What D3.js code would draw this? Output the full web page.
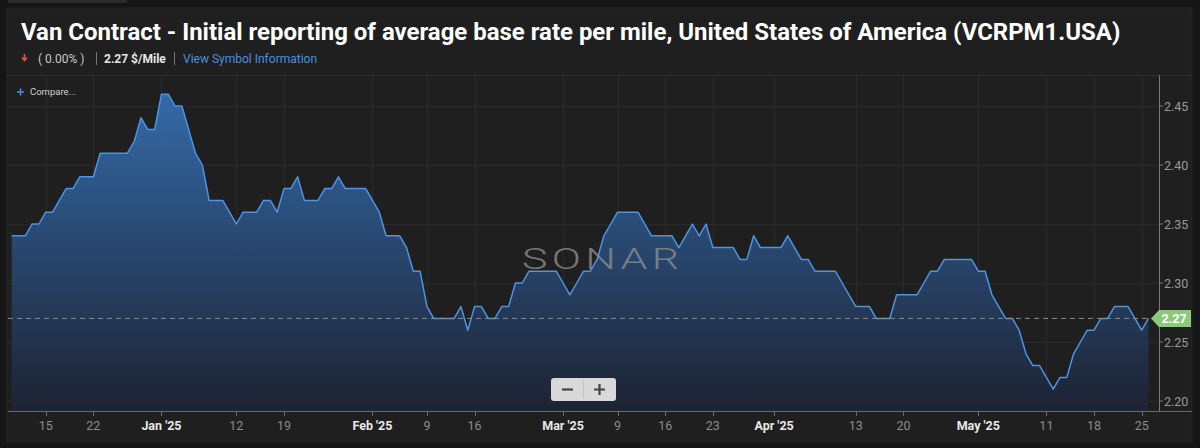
<!DOCTYPE html>
<html>
<head>
<meta charset="utf-8">
<script src="https://cdn.jsdelivr.net/npm/d3@7"></script>
<style>
	html, body { margin: 0; padding: 0; background: #151515; }
	#app { width: 1200px; height: 448px; }
	text { font-family: Roboto, "Noto Sans", sans-serif; }
</style>
</head>
<body>
<div id="app"></div>
<script>
// daily series, starting 10 Dec 2024
const startDay = '2024-12-10';
const rateValues = [
	2.34, 2.34, 2.34, 2.35, 2.35, 2.36, 2.36, 2.37, 2.38, 2.38,
	2.39, 2.39, 2.39, 2.41, 2.41, 2.41, 2.41, 2.41, 2.42, 2.44,
	2.43, 2.43, 2.46, 2.46, 2.45, 2.45, 2.43, 2.41, 2.40, 2.37,
	2.37, 2.37, 2.36, 2.35, 2.36, 2.36, 2.36, 2.37, 2.37, 2.36,
	2.38, 2.38, 2.39, 2.37, 2.37, 2.37, 2.38, 2.38, 2.39, 2.38,
	2.38, 2.38, 2.38, 2.37, 2.36, 2.34, 2.34, 2.34, 2.33, 2.31,
	2.31, 2.28, 2.27, 2.27, 2.27, 2.27, 2.28, 2.26, 2.28, 2.28,
	2.27, 2.27, 2.28, 2.28, 2.30, 2.30, 2.31, 2.31, 2.31, 2.31,
	2.31, 2.30, 2.29, 2.30, 2.31, 2.31, 2.32, 2.34, 2.35, 2.36,
	2.36, 2.36, 2.36, 2.35, 2.34, 2.34, 2.34, 2.34, 2.33, 2.34,
	2.35, 2.34, 2.35, 2.33, 2.33, 2.33, 2.33, 2.32, 2.32, 2.34,
	2.33, 2.33, 2.33, 2.33, 2.34, 2.33, 2.32, 2.32, 2.31, 2.31,
	2.31, 2.31, 2.30, 2.29, 2.28, 2.28, 2.28, 2.27, 2.27, 2.27,
	2.29, 2.29, 2.29, 2.29, 2.30, 2.31, 2.31, 2.32, 2.32, 2.32,
	2.32, 2.32, 2.31, 2.31, 2.29, 2.28, 2.27, 2.27, 2.26, 2.24,
	2.23, 2.23, 2.22, 2.21, 2.22, 2.22, 2.24, 2.25, 2.26, 2.26,
	2.27, 2.27, 2.28, 2.28, 2.28, 2.27, 2.26, 2.27
];
const xTickDays = [
	'2024-12-15', '2024-12-22', '2025-01-01', '2025-01-12', '2025-01-19',
	'2025-02-01', '2025-02-09', '2025-02-16', '2025-03-01', '2025-03-09',
	'2025-03-16', '2025-03-23', '2025-04-01', '2025-04-13', '2025-04-20',
	'2025-05-01', '2025-05-11', '2025-05-18', '2025-05-25'
];
const yTickValues = [2.20, 2.25, 2.30, 2.35, 2.40, 2.45];
const lastValue = 2.27;
const titleText = 'Van Contract - Initial reporting of average base rate per mile, United States of America (VCRPM1.USA)';
const changeText = '( 0.00% )';
const priceText = '2.27 $/Mile';
const linkText = 'View Symbol Information';

const W = 1200, H = 448;
const plot = { left: 8, right: 1159, top: 75, bottom: 411 };

const parseDay = d3.timeParse('%Y-%m-%d');
const day0 = parseDay(startDay);
const series = rateValues.map((v, i) => ({ date: d3.timeDay.offset(day0, i), value: v }));
const tickDates = xTickDays.map(parseDay);

const svg = d3.select('#app').append('svg')
	.attr('width', W)
	.attr('height', H);

// panel
svg.append('rect').attr('x', 8).attr('y', 0).attr('width', 119).attr('height', 3).attr('fill', '#2c2c2c');
svg.append('rect')
	.attr('x', 7).attr('y', 8).attr('width', 1185).attr('height', 434)
	.attr('fill', '#1f1f1f')
	.attr('stroke', '#262626');

// header
const title = svg.append('text')
	.attr('x', 21).attr('y', 40)
	.attr('fill', '#ffffff')
	.attr('font-weight', 700)
	.attr('font-size', 22)
	.text(titleText);
const tLen = title.node().getComputedTextLength();
title.attr('font-size', 22 * 1100 / tLen);

const sub = svg.append('g').attr('font-size', 12);
sub.append('path').attr('d', 'M24.5,54 v6 M22,57.5 l2.5,3 l2.5,-3').attr('stroke', '#e0524f').attr('stroke-width', 1.6).attr('fill', 'none');
sub.append('text').attr('x', 38).attr('y', 63).attr('fill', '#c8c8c8').text(changeText);
sub.append('line').attr('x1', 96.5).attr('x2', 96.5).attr('y1', 52).attr('y2', 65).attr('stroke', '#777');
sub.append('text').attr('x', 104).attr('y', 63).attr('fill', '#e6e6e6').attr('font-weight', 700).text(priceText);
sub.append('line').attr('x1', 174.5).attr('x2', 174.5).attr('y1', 52).attr('y2', 65).attr('stroke', '#777');
sub.append('text').attr('x', 183).attr('y', 63).attr('fill', '#4c8fdc').text(linkText);

svg.append('line')
	.attr('x1', 7).attr('x2', 1192)
	.attr('y1', plot.top + 0.5).attr('y2', plot.top + 0.5)
	.attr('stroke', '#2f2f2f');

// scales
const x = d3.scaleTime()
	.domain([day0, series[series.length - 1].date])
	.range([11.7, 1148.5]);
const y = d3.scaleLinear()
	.domain([2.20, 2.45])
	.range([401, 106]);

// grid
const grid = svg.append('g').attr('stroke', '#2a2a2a').attr('stroke-width', 1);
grid.selectAll('line.v').data(tickDates).enter().append('line')
	.attr('class', 'v')
	.attr('x1', d => Math.round(x(d)) + 0.5).attr('x2', d => Math.round(x(d)) + 0.5)
	.attr('y1', plot.top).attr('y2', plot.bottom);
grid.selectAll('line.h').data(yTickValues).enter().append('line')
	.attr('class', 'h')
	.attr('x1', plot.left).attr('x2', plot.right)
	.attr('y1', d => Math.round(y(d)) + 0.5).attr('y2', d => Math.round(y(d)) + 0.5);

// area + line
const defs = svg.append('defs');
const grad = defs.append('linearGradient')
	.attr('id', 'areaGrad')
	.attr('gradientUnits', 'userSpaceOnUse')
	.attr('x1', 0).attr('x2', 0)
	.attr('y1', plot.top).attr('y2', plot.bottom);
grad.append('stop').attr('offset', 0).attr('stop-color', '#3672b6');
grad.append('stop').attr('offset', 0.5).attr('stop-color', '#294a74');
grad.append('stop').attr('offset', 1).attr('stop-color', '#1d2333');

const area = d3.area()
	.x(d => x(d.date))
	.y0(plot.bottom)
	.y1(d => y(d.value));
const line = d3.line()
	.x(d => x(d.date))
	.y(d => y(d.value));

svg.append('path')
	.datum(series)
	.attr('d', area)
	.attr('fill', 'url(#areaGrad)')
	.attr('opacity', 0.95);

// watermark sits over the area
const wm = svg.append('g');
const wmText = wm.append('text')
	.attr('x', 0).attr('y', 0)
	.attr('font-family', 'Lato, Roboto, sans-serif')
	.attr('font-weight', 300)
	.attr('font-size', 30)
	.attr('letter-spacing', 3)
	.attr('fill', '#8c8c8c')
	.attr('opacity', 0.8)
	.text('SONAR');
const wmLen = wmText.node().getComputedTextLength() - 3;
wm.attr('transform', `translate(522,269) scale(${157 / wmLen},1)`);

svg.append('path')
	.datum(series)
	.attr('d', line)
	.attr('fill', 'none')
	.attr('stroke', '#4d93e6')
	.attr('stroke-width', 1.5)
	.attr('stroke-linejoin', 'round');

// last value dashed line
svg.append('line')
	.attr('x1', plot.left).attr('x2', plot.right)
	.attr('y1', y(lastValue)).attr('y2', y(lastValue))
	.attr('stroke', '#8d8d80')
	.attr('stroke-width', 1)
	.attr('stroke-dasharray', '5,4');

// axes
svg.append('line')
	.attr('x1', plot.left).attr('x2', 1192)
	.attr('y1', plot.bottom + 0.5).attr('y2', plot.bottom + 0.5)
	.attr('stroke', '#6a6a6a');
svg.append('line')
	.attr('x1', plot.right + 0.5).attr('x2', plot.right + 0.5)
	.attr('y1', plot.top).attr('y2', plot.bottom)
	.attr('stroke', '#7a7a7a');

const fmtMonth = d3.timeFormat("%b '%y");
const xAxis = svg.append('g');
xAxis.selectAll('line').data(tickDates).enter().append('line')
	.attr('x1', d => Math.round(x(d)) + 0.5).attr('x2', d => Math.round(x(d)) + 0.5)
	.attr('y1', plot.bottom).attr('y2', plot.bottom + 5)
	.attr('stroke', '#6a6a6a');
xAxis.selectAll('text').data(tickDates).enter().append('text')
	.attr('x', d => x(d))
	.attr('y', 430)
	.attr('text-anchor', 'middle')
	.attr('font-size', 12.5)
	.attr('font-weight', d => d.getDate() === 1 ? 700 : 400)
	.attr('fill', d => d.getDate() === 1 ? '#e8e8e8' : '#8c8c8c')
	.text(d => d.getDate() === 1 ? fmtMonth(d) : d.getDate());

const yAxis = svg.append('g');
yAxis.selectAll('line').data(yTickValues).enter().append('line')
	.attr('x1', plot.right).attr('x2', plot.right + 4)
	.attr('y1', d => y(d)).attr('y2', d => y(d))
	.attr('stroke', '#7a7a7a');
yAxis.selectAll('text').data(yTickValues).enter().append('text')
	.attr('x', plot.right + 5)
	.attr('y', d => y(d) + 4.5)
	.attr('font-size', 12.5)
	.attr('fill', '#9a9a9a')
	.text(d => d3.format('.2f')(d));

// last value badge
const by = y(lastValue);
svg.append('path')
	.attr('d', `M1151,${by} L1159,${by - 8.5} L1191,${by - 8.5} L1191,${by + 8.5} L1159,${by + 8.5} Z`)
	.attr('fill', '#8cc97c');
svg.append('text')
	.attr('x', 1174).attr('y', by + 4.5)
	.attr('text-anchor', 'middle')
	.attr('font-size', 12.5)
	.attr('font-weight', 700)
	.attr('fill', '#ffffff')
	.text(d3.format('.2f')(lastValue));

// compare
svg.append('path')
	.attr('d', 'M17,92 h7 M20.5,88.5 v7')
	.attr('stroke', '#4c8fdc').attr('stroke-width', 1.5);
svg.append('text')
	.attr('x', 30).attr('y', 95)
	.attr('font-size', 9.5)
	.attr('fill', '#cfcfcf')
	.text('Compare...');

// zoom buttons
const zb = svg.append('g');
zb.append('rect')
	.attr('x', 551).attr('y', 378).attr('width', 65).attr('height', 23).attr('rx', 3)
	.attr('fill', '#d9d9d9');
zb.append('line').attr('x1', 583.5).attr('x2', 583.5).attr('y1', 380).attr('y2', 399).attr('stroke', '#c4c4c4');
zb.append('path').attr('d', 'M562,389.5 h11').attr('stroke', '#444').attr('stroke-width', 2.2);
zb.append('path').attr('d', 'M594,389.5 h11 M599.5,384 v11').attr('stroke', '#444').attr('stroke-width', 2.2);
</script>
</body>
</html>
